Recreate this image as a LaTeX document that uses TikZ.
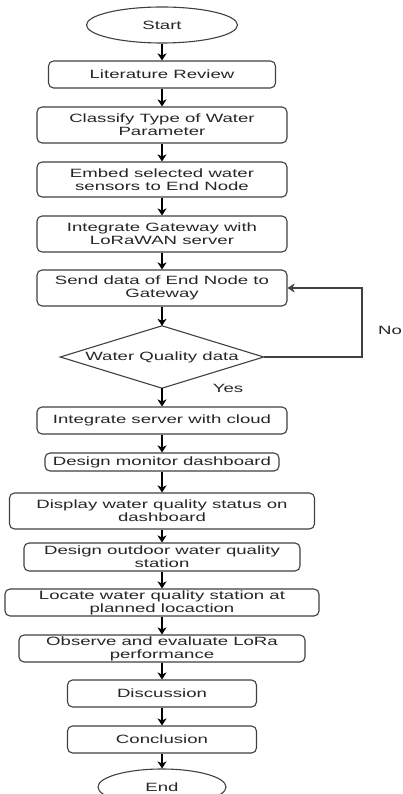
\documentclass[tikz,border=0pt]{standalone}
\usepackage{fontspec}
\newfontfamily\af[FakeStretch=1.55]{Liberation Sans}
\usetikzlibrary{shapes.geometric,arrows.meta}
\begin{document}
\begin{tikzpicture}[x=1pt,y=-1pt,
  box/.style={draw=black!75, line width=1.1pt, rounded corners=5pt, fill=white, align=center,
    inner sep=0pt, font=\af\fontsize{12}{13}\selectfont, text=black!85},
  term/.style={ellipse, draw=black!75, line width=1.1pt, inner sep=0pt,
    font=\af\fontsize{12}{13}\selectfont, text=black!85},
  lbl/.style={font=\af\fontsize{12}{13}\selectfont, text=black!85, inner sep=0pt},
  tip/.style={-{Stealth[length=7pt,width=9pt,inset=2pt]}},
  arr/.style={line width=1.3pt, tip}]
\useasboundingbox (0,0) rectangle (403,794);
\clip (0,0) rectangle (403,794);

\node[term, minimum width=151pt, minimum height=36pt] (start) at (162,25) {Start};
\node[box, minimum width=227pt, minimum height=27pt] (lit) at (162,74.5) {Literature Review};
\node[box, minimum width=250pt, minimum height=36pt] (cls) at (162,125) {Classify Type of Water\\Parameter};
\node[box, minimum width=250pt, minimum height=35pt] (emb) at (162,179.5) {Embed selected water\\sensors to End Node};
\node[box, minimum width=250pt, minimum height=36pt] (igw) at (162,234) {Integrate Gateway with\\LoRaWAN server};
\node[box, minimum width=250pt, minimum height=36pt] (send) at (162,288) {Send data of End Node to\\Gateway};
\node[lbl, minimum width=203pt, minimum height=62pt] (dia) at (162,357) {Water Quality data};
\draw[draw=black!75, line width=1.1pt] (dia.north) -- (dia.east) -- (dia.south) -- (dia.west) -- cycle;
\node[box, minimum width=250pt, minimum height=27pt] (isc) at (162,420.5) {Integrate server with cloud};
\node[box, minimum width=234pt, minimum height=18pt] (dmd) at (162,462) {Design monitor dashboard};
\node[box, minimum width=305pt, minimum height=36pt] (disp) at (162,511) {Display water quality status on\\dashboard};
\node[box, minimum width=276pt, minimum height=28pt] (dout) at (162,557) {Design outdoor water quality\\station};
\node[box, minimum width=314pt, minimum height=27pt] (loc) at (162,602.5) {Locate water quality station at\\planned locaction};
\node[box, minimum width=286pt, minimum height=27pt] (obs) at (162,648.5) {Observe and evaluate LoRa\\performance};
\node[box, minimum width=189pt, minimum height=27pt] (disc) at (162,693.5) {Discussion};
\node[box, minimum width=189pt, minimum height=27pt] (conc) at (162,739.5) {Conclusion};
\node[term, minimum width=128pt, minimum height=36pt] (end) at (162,787) {End};

\node[lbl] (no) at (390,330) {No};
\node[lbl] (yes) at (228,388) {Yes};
\coordinate (lpR) at (362,357);
\coordinate (lpT) at (362,288);

\draw[arr] (start.south) -- (lit.north);
\draw[arr] (lit.south) -- (cls.north);
\draw[arr] (cls.south) -- (emb.north);
\draw[arr] (emb.south) -- (igw.north);
\draw[arr] (igw.south) -- (send.north);
\draw[arr] (send.south) -- (dia.north);
\draw[arr] (dia.south) -- (isc.north);
\draw[arr] (isc.south) -- (dmd.north);
\draw[arr] (dmd.south) -- (disp.north);
\draw[arr] (disp.south) -- (dout.north);
\draw[arr] (dout.south) -- (loc.north);
\draw[arr] (loc.south) -- (obs.north);
\draw[arr] (obs.south) -- (disc.north);
\draw[arr] (disc.south) -- (conc.north);
\draw[arr] (conc.south) -- (end.north);
\draw[line width=1.1pt, draw=black!75, tip] (dia.east) -- (lpR) -- (lpT) -- (send.east);
\end{tikzpicture}
\end{document}
